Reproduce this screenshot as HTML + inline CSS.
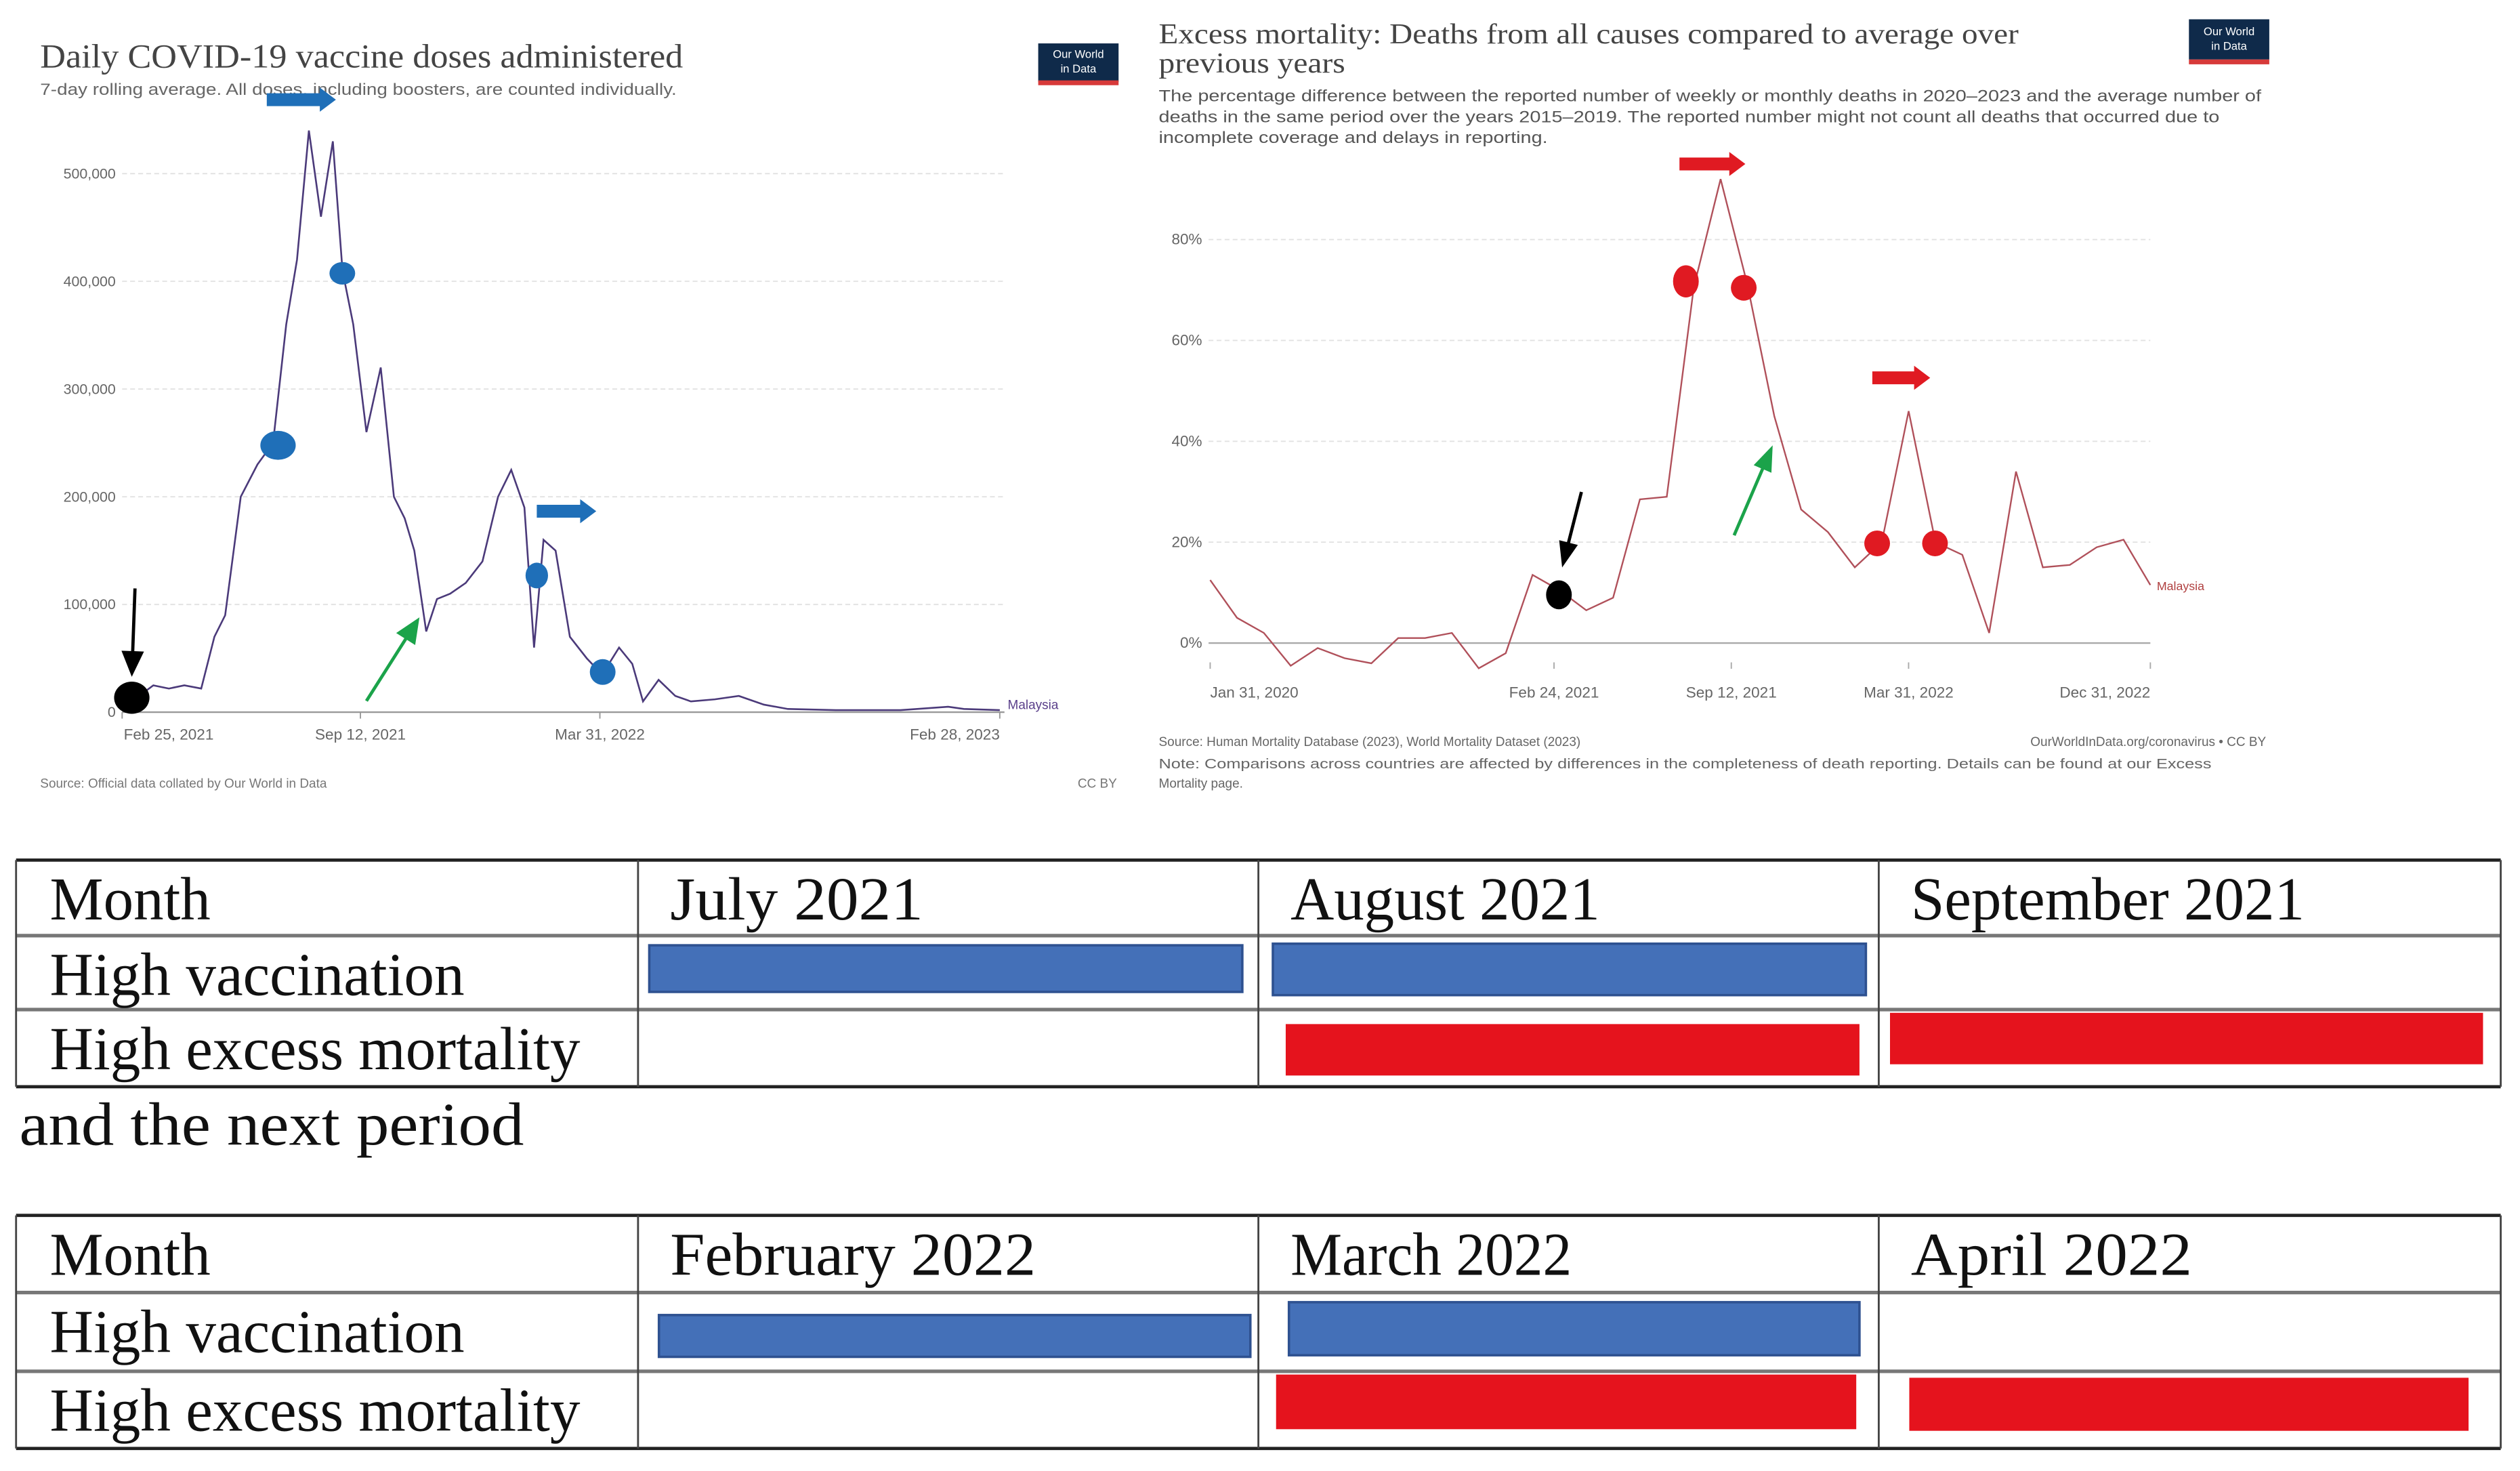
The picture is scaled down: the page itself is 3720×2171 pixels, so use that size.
<!DOCTYPE html>
<html><head><meta charset="utf-8"><style>
html,body{margin:0;padding:0;background:#fff;}
svg{display:block;}
.sans{font-family:"Liberation Sans",sans-serif;}
.serif{font-family:"Liberation Serif",serif;}
</style></head><body>
<svg id="root" width="3720" height="2171" viewBox="0 0 1568 915" preserveAspectRatio="none" xmlns="http://www.w3.org/2000/svg">
<rect width="1568" height="915" fill="#fff"/>
<g id="left">
<text class="serif" x="25" y="42" font-size="21" fill="#444" textLength="400" lengthAdjust="spacingAndGlyphs">Daily COVID-19 vaccine doses administered</text>
<text class="sans" x="25" y="59" font-size="10" fill="#666" textLength="396" lengthAdjust="spacingAndGlyphs">7-day rolling average. All doses, including boosters, are counted individually.</text>
<g><rect x="646" y="27" width="50" height="24" fill="#0f2a4a"/><rect x="646" y="50" width="50" height="3" fill="#d73a3a"/><text class="sans" x="671" y="36" font-size="7" fill="#fff" text-anchor="middle">Our World</text><text class="sans" x="671" y="45" font-size="7" fill="#fff" text-anchor="middle">in Data</text></g>
<g id="lgrid"></g>
<g id="lline"></g>
<text class="sans" x="627" y="441" font-size="8" fill="#5a3f8a">Malaysia</text>
<text class="sans" x="25" y="490" font-size="8" fill="#777">Source: Official data collated by Our World in Data</text>
<text class="sans" x="695" y="490" font-size="8" fill="#777" text-anchor="end">CC BY</text>
</g>
<g id="right">
<text class="serif" x="721" y="27" font-size="18" fill="#444" textLength="535" lengthAdjust="spacingAndGlyphs">Excess mortality: Deaths from all causes compared to average over</text>
<text class="serif" x="721" y="45" font-size="18" fill="#444" textLength="116" lengthAdjust="spacingAndGlyphs">previous years</text>
<text class="sans" x="721" y="63" font-size="10" fill="#555" textLength="686" lengthAdjust="spacingAndGlyphs">The percentage difference between the reported number of weekly or monthly deaths in 2020–2023 and the average number of</text>
<text class="sans" x="721" y="76" font-size="10" fill="#555" textLength="660" lengthAdjust="spacingAndGlyphs">deaths in the same period over the years 2015–2019. The reported number might not count all deaths that occurred due to</text>
<text class="sans" x="721" y="89" font-size="10" fill="#555" textLength="242" lengthAdjust="spacingAndGlyphs">incomplete coverage and delays in reporting.</text>
<g><rect x="1362" y="12" width="50" height="25" fill="#0f2a4a"/><rect x="1362" y="37" width="50" height="3" fill="#d73a3a"/><text class="sans" x="1387" y="22" font-size="7" fill="#fff" text-anchor="middle">Our World</text><text class="sans" x="1387" y="31" font-size="7" fill="#fff" text-anchor="middle">in Data</text></g>
<g id="rgrid"></g>
<g id="rline"></g>
<text class="sans" x="1342" y="367" font-size="7.5" fill="#b04040">Malaysia</text>
<text class="sans" x="721" y="464" font-size="8" fill="#666">Source: Human Mortality Database (2023), World Mortality Dataset (2023)</text>
<text class="sans" x="1410" y="464" font-size="8" fill="#666" text-anchor="end">OurWorldInData.org/coronavirus • CC BY</text>
<text class="sans" x="721" y="478" font-size="8.5" fill="#666" textLength="655" lengthAdjust="spacingAndGlyphs">Note: Comparisons across countries are affected by differences in the completeness of death reporting. Details can be found at our Excess</text>
<text class="sans" x="721" y="490" font-size="8" fill="#666">Mortality page.</text>
</g>
<g id="annot"></g>
<g id="tables"></g>
</svg>
<script>
const NS="http://www.w3.org/2000/svg";
// ---- vaccine chart data (days since Feb 25, 2021; doses) ----
const vaxDays=[8,26,39,52,66,77,86,99,113,126,137,146,156,166,176,184,193,204,216,227,236,244,254,263,274,287,301,314,325,336,344,352,362,374,388,401,415,426,435,448,462,475,495,515,536,556,596,650,690,703,733];
const vaxValues=[10000,25000,22000,25000,22000,70000,90000,200000,230000,250000,360000,420000,540000,460000,530000,410000,360000,260000,320000,200000,180000,150000,75000,105000,110000,120000,140000,200000,225000,190000,60000,160000,150000,70000,50000,35000,60000,45000,10000,30000,15000,10000,12000,15000,7000,3000,2000,2000,5000,3000,2000];
const vaxTicks=[0,100000,200000,300000,400000,500000];
const vaxTickLabels=["0","100,000","200,000","300,000","400,000","500,000"];
const vaxXTickDays=[0,199,399,733];
const vaxXTickLabels=["Feb 25, 2021","Sep 12, 2021","Mar 31, 2022","Feb 28, 2023"];
// ---- mortality chart data (monthly, Jan 2020 .. Dec 2022; %) ----
const mortMonths=["2020-01","2020-02","2020-03","2020-04","2020-05","2020-06","2020-07","2020-08","2020-09","2020-10","2020-11","2020-12","2021-01","2021-02","2021-03","2021-04","2021-05","2021-06","2021-07","2021-08","2021-09","2021-10","2021-11","2021-12","2022-01","2022-02","2022-03","2022-04","2022-05","2022-06","2022-07","2022-08","2022-09","2022-10","2022-11","2022-12"];
const mortValues=[12.5,5,2,-4.5,-1,-3,-4,1,1,2,-5,-2,13.5,10.5,6.5,9,28.5,29,70.5,92,71,45,26.5,22,15,20,46,20,17.5,2,34,15,15.5,19,20.5,11.5];
const mortTicks=[0,20,40,60,80];
const mortTickLabels=["0%","20%","40%","60%","80%"];
const mortXTickIdx=[0,12.8,19.4,26,35];
const mortXTickLabels=["Jan 31, 2020","Feb 24, 2021","Sep 12, 2021","Mar 31, 2022","Dec 31, 2022"];
// ---- table data ----
const table1Months=["July 2021","August 2021","September 2021"];
const table1Vax=[1,1,0];
const table1Mort=[0,1,1];
const table2Months=["February 2022","March 2022","April 2022"];
const table2Vax=[1,1,0];
const table2Mort=[0,1,1];

function mk(tag,attrs,parent){const e=document.createElementNS(NS,tag);for(const k in attrs)e.setAttribute(k,attrs[k]);parent.appendChild(e);return e;}

const lx=d=>76+d*0.745, ly=v=>443-v*67/100000;
const lgrid=document.getElementById('lgrid');
vaxTicks.forEach((t,i)=>{
  if(t>0){const g=mk('line',{x1:76,x2:625,y1:ly(t),y2:ly(t),stroke:'#e2e2e2','stroke-width':0.8,'stroke-dasharray':'3,2'},lgrid);
  
  }
  const tx=mk('text',{x:72,y:ly(t)+3,'font-size':9,fill:'#666','text-anchor':'end',class:'sans'},lgrid);tx.textContent=vaxTickLabels[i];
  
  
});
const lax=mk('line',{x1:76,x2:625,y1:443,y2:443,stroke:'#999','stroke-width':1},lgrid);


vaxXTickDays.forEach((d,i)=>{
  mk('line',{x1:lx(d),x2:lx(d),y1:443,y2:447,stroke:'#999','stroke-width':0.8},lgrid);
  const anc=i==0?'start':(i==vaxXTickDays.length-1?'end':'middle');
  const tx=mk('text',{x:lx(d)+(i==0?1:0),y:460,'font-size':9.5,fill:'#666','text-anchor':anc,class:'sans'},lgrid);tx.textContent=vaxXTickLabels[i];
  
  
});
const lpath=mk('path',{d:vaxDays.map((d,i)=>(i?'L':'M')+lx(d).toFixed(1)+','+ly(vaxValues[i]).toFixed(1)).join(''),fill:'none',stroke:'#4b3a7a','stroke-width':1.1},document.getElementById('lline'));



const rx=i=>753+i*(1338-753)/35, ry=v=>400-v*62.75/20;
const rgrid=document.getElementById('rgrid');
mortTicks.forEach((t,i)=>{
  if(t>0){const g=mk('line',{x1:752,x2:1338,y1:ry(t),y2:ry(t),stroke:'#e2e2e2','stroke-width':0.8,'stroke-dasharray':'3,2'},rgrid);
  
  }
  const tx=mk('text',{x:748,y:ry(t)+3,'font-size':9.5,fill:'#666','text-anchor':'end',class:'sans'},rgrid);tx.textContent=mortTickLabels[i];
  
  
});
const rax=mk('line',{x1:752,x2:1338,y1:400,y2:400,stroke:'#aaa','stroke-width':1},rgrid);


mortXTickIdx.forEach((m,i)=>{
  mk('line',{x1:rx(m),x2:rx(m),y1:412,y2:416,stroke:'#aaa','stroke-width':0.8},rgrid);
  const anc=i==0?'start':(i==mortXTickIdx.length-1?'end':'middle');
  const tx=mk('text',{x:rx(m),y:434,'font-size':9.5,fill:'#666','text-anchor':anc,class:'sans'},rgrid);tx.textContent=mortXTickLabels[i];
  
  
});
const rpath=mk('path',{d:mortValues.map((v,i)=>(i?'L':'M')+rx(i).toFixed(1)+','+ry(v).toFixed(1)).join(''),fill:'none',stroke:'#b0505a','stroke-width':1},document.getElementById('rline'));



const an=document.getElementById('annot');
function dot(cx,cy,rxx,ryy,fill,name){const e=mk('ellipse',{cx,cy,rx:rxx,ry:ryy,fill},an);}
function arrow(x1,y1,x2,y2,col,w,hw,hl,name){
  const dx=x2-x1,dy=y2-y1,L=Math.hypot(dx,dy),ux=dx/L,uy=dy/L,px=-uy,py=ux;
  const bx=x2-ux*hl,by=y2-uy*hl;
  const pts=[[x1+px*w/2,y1+py*w/2],[bx+px*w/2,by+py*w/2],[bx+px*hw/2,by+py*hw/2],[x2,y2],[bx-px*hw/2,by-py*hw/2],[bx-px*w/2,by-py*w/2],[x1-px*w/2,y1-py*w/2]];
  const e=mk('polygon',{points:pts.map(p=>p.join(',')).join(' '),fill:col},an);
  
}
dot(173,277,11,9,'#1f6fb8','vaccine-marker');dot(213,170,8,7,'#1f6fb8','vaccine-marker');
dot(334,358,7,8,'#1f6fb8','vaccine-marker');dot(375,418,8,8,'#1f6fb8','vaccine-marker');
dot(82,434,11,10,'#000','vaccine-start-marker');
arrow(84,366,82,421,'#000',2,14,16,'black-arrow-left');
arrow(166,62,209,62,'#1f6fb8',8,15,10,'blue-arrow-peak');
arrow(334,318,371,318,'#1f6fb8',8,15,10,'blue-arrow-second');
arrow(228,436,261,384,'#1ba34a',2,14,16,'green-arrow-left');
dot(1049,175,8,10,'#e01a22','mortality-marker');dot(1085,179,8,8,'#e01a22','mortality-marker');
dot(1168,338,8,8,'#e01a22','mortality-marker');dot(1204,338,8,8,'#e01a22','mortality-marker');
dot(970,370,8,9,'#000','mortality-start-marker');
arrow(984,306,972,353,'#000',2,12,16,'black-arrow-right');
arrow(1045,102,1086,102,'#e01a22',8,15,10,'red-arrow-peak');
arrow(1165,235,1201,235,'#e01a22',8,15,10,'red-arrow-second');
arrow(1079,333,1103,277,'#1ba34a',2,12,16,'green-arrow-right');

const tb=document.getElementById('tables');
const cols=[10,397,783,1169,1556];
function table(top,rowsY,months,vax,mort,vbars,mbars,tname){
  const g=mk('g',{},tb);
  const bottom=rowsY[3];
  rowsY.forEach((y,i)=>mk('line',{x1:10,x2:1556,y1:y,y2:y,stroke:i==0||i==3?'#222':'#777','stroke-width':i==0||i==3?2:2.2},g));
  cols.forEach(x=>mk('line',{x1:x,x2:x,y1:rowsY[0],y2:bottom,stroke:'#444','stroke-width':1.2},g));
  const labels=["Month","High vaccination","High excess mortality"];
  const lens=[100,258,330];
  labels.forEach((l,i)=>{const t=mk('text',{x:31,y:rowsY[i]+37,'font-size':38,fill:'#111',class:'serif',textLength:lens[i],lengthAdjust:'spacingAndGlyphs'},g);t.textContent=l;
    });
  months.forEach((m,i)=>{const t=mk('text',{x:cols[i+1]+20,y:rowsY[0]+37,'font-size':38,fill:'#111',class:'serif',textLength:m.length*17.5,lengthAdjust:'spacingAndGlyphs'},g);t.textContent=m;
    });
  vax.forEach((v,i)=>{if(!v)return;const b=vbars[i];const r=mk('rect',{x:b[0],y:b[1],width:b[2]-b[0],height:b[3]-b[1],fill:'#4470b8',stroke:'#2e5190','stroke-width':1.5},g);
    });
  mort.forEach((v,i)=>{if(!v)return;const b=mbars[i];const r=mk('rect',{x:b[0],y:b[1],width:b[2]-b[0],height:b[3]-b[1],fill:'#e5131d'},g);
    });
}
table(535,[535,582,628,676],table1Months,table1Vax,table1Mort,
  [[404,588,773,617],[792,587,1161,619],null],[null,[800,637,1157,669],[1176,630,1545,662]],'table-2021');
const mid=mk('text',{x:12,y:712,'font-size':38,fill:'#111',class:'serif',textLength:314,lengthAdjust:'spacingAndGlyphs'},tb);mid.textContent="and the next period";


table(756,[756,804,853,901],table2Months,table2Vax,table2Mort,
  [[410,818,778,844],[802,810,1157,843],null],[null,[794,855,1155,889],[1188,857,1536,890]],'table-2022');
</script>
</body></html>
